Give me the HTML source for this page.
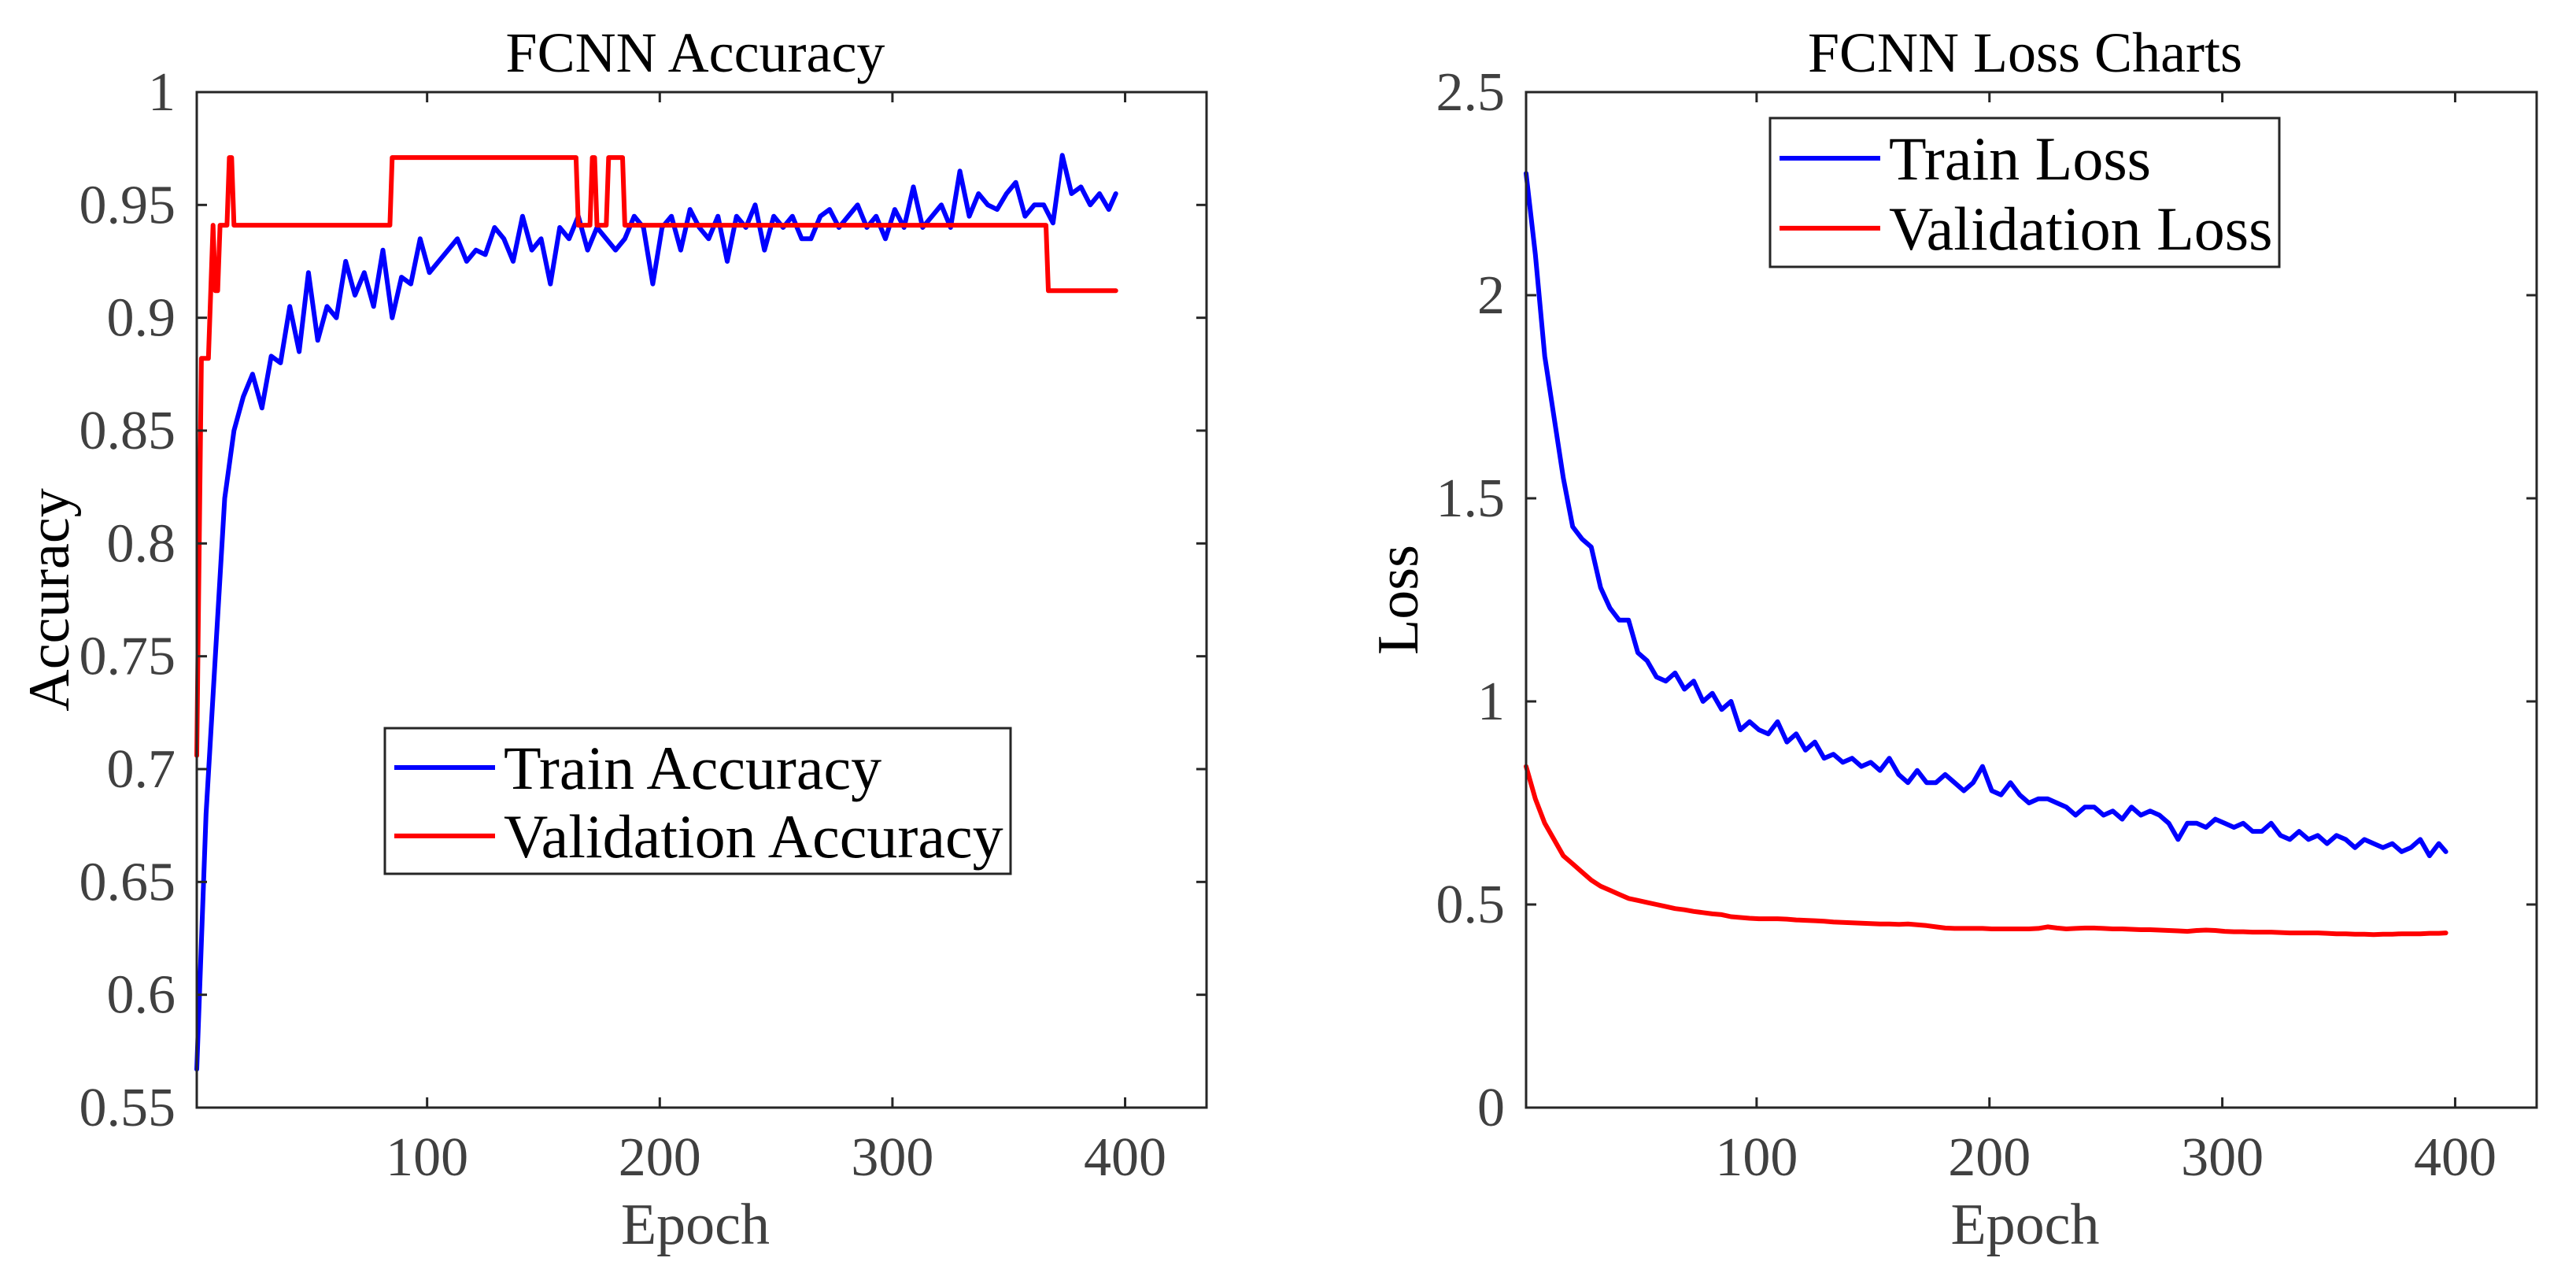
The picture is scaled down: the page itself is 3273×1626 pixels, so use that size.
<!DOCTYPE html>
<html><head><meta charset="utf-8"><style>
html,body{margin:0;padding:0;background:#fff}
svg{display:block}
text{font-family:"Liberation Serif",serif}
</style></head><body>
<svg id="fig" width="3273" height="1626" viewBox="0 0 3273 1626" xmlns="http://www.w3.org/2000/svg"></svg>
<script>
const trainAcc=[0.567,0.68,0.75,0.82,0.85,0.865,0.875,0.86,0.883,0.88,0.905,0.885,0.92,0.89,0.905,0.9,0.925,0.91,0.92,0.905,0.93,0.90,0.918,0.915,0.935,0.92,0.925,0.93,0.935,0.925,0.93,0.928,0.94,0.935,0.925,0.945,0.93,0.935,0.915,0.94,0.935,0.945,0.93,0.94,0.935,0.93,0.935,0.945,0.94,0.915,0.94,0.945,0.93,0.948,0.94,0.935,0.945,0.925,0.945,0.94,0.95,0.93,0.945,0.94,0.945,0.935,0.935,0.945,0.948,0.94,0.945,0.95,0.94,0.945,0.935,0.948,0.94,0.958,0.94,0.945,0.95,0.94,0.965,0.945,0.955,0.95,0.948,0.955,0.96,0.945,0.95,0.95,0.942,0.972,0.955,0.958,0.95,0.955,0.948,0.955];
const valAccEpochs=[1,3,6,8,9,10,11,14,15,16,17,84,85,164,165,170,171,172,173,177,178,184,185,366,367,396];
const valAcc=[0.706,0.882,0.882,0.941,0.912,0.912,0.941,0.941,0.971,0.971,0.941,0.941,0.971,0.971,0.941,0.941,0.971,0.971,0.941,0.941,0.971,0.971,0.941,0.941,0.912,0.912];
const trainLoss=[2.3,2.1,1.85,1.7,1.55,1.43,1.4,1.38,1.28,1.23,1.2,1.2,1.12,1.1,1.06,1.05,1.07,1.03,1.05,1.0,1.02,0.98,1.0,0.93,0.95,0.93,0.92,0.95,0.9,0.92,0.88,0.9,0.86,0.87,0.85,0.86,0.84,0.85,0.83,0.86,0.82,0.8,0.83,0.8,0.8,0.82,0.8,0.78,0.8,0.84,0.78,0.77,0.8,0.77,0.75,0.76,0.76,0.75,0.74,0.72,0.74,0.74,0.72,0.73,0.71,0.74,0.72,0.73,0.72,0.7,0.66,0.7,0.7,0.69,0.71,0.7,0.69,0.7,0.68,0.68,0.7,0.67,0.66,0.68,0.66,0.67,0.65,0.67,0.66,0.64,0.66,0.65,0.64,0.65,0.63,0.64,0.66,0.62,0.65,0.63];
const valLoss=[0.84,0.76,0.7,0.66,0.62,0.6,0.58,0.56,0.545,0.535,0.525,0.515,0.51,0.505,0.5,0.495,0.49,0.487,0.483,0.48,0.477,0.475,0.47,0.468,0.466,0.465,0.465,0.465,0.464,0.462,0.461,0.46,0.459,0.457,0.456,0.455,0.454,0.453,0.452,0.452,0.451,0.452,0.45,0.448,0.445,0.442,0.441,0.441,0.441,0.441,0.44,0.44,0.44,0.44,0.44,0.441,0.445,0.442,0.44,0.441,0.442,0.442,0.441,0.44,0.44,0.439,0.438,0.438,0.437,0.436,0.435,0.434,0.436,0.437,0.436,0.434,0.433,0.433,0.432,0.432,0.432,0.431,0.43,0.43,0.43,0.43,0.429,0.428,0.428,0.427,0.427,0.426,0.427,0.427,0.428,0.428,0.428,0.429,0.429,0.43];
const xTicks=[100,200,300,400];
const accTicks=["0.55","0.6","0.65","0.7","0.75","0.8","0.85","0.9","0.95","1"];
const lossTicks=["0","0.5","1","1.5","2","2.5"];
const sampleEpochs=trainAcc.map((_,i)=>Math.min(1+4*i,396));

const NS="http://www.w3.org/2000/svg";
const svg=document.getElementById('fig');
function mk(tag,attrs,parent){const e=document.createElementNS(NS,tag);for(const k in attrs)e.setAttribute(k,attrs[k]);(parent||svg).appendChild(e);return e;}

function panel(opt){
  const g=mk('g',{});
  
  
  const L=opt.left,R=opt.right,T=117,B=1407;
  const xs=v=>L+(v-1)/(435-1)*(R-L);
  const ys=v=>B-(v-opt.ymin)/(opt.ymax-opt.ymin)*(B-T);
  opt.series.forEach(s=>{
    const pts=s.x.map((x,i)=>xs(x).toFixed(1)+','+ys(s.y[i]).toFixed(1)).join(' ');
    const p=mk('polyline',{points:pts,fill:'none',stroke:s.color,'stroke-width':6,'stroke-linejoin':'round','stroke-linecap':'round'},g);
    
    
  });
  const box=mk('rect',{x:L,y:T,width:R-L,height:B-T,fill:'none',stroke:'#262626','stroke-width':3},g);
  
  
  xTicks.forEach(t=>{
    const x=xs(t);
    mk('line',{x1:x,y1:B,x2:x,y2:B-13,stroke:'#262626','stroke-width':3},g);
    mk('line',{x1:x,y1:T,x2:x,y2:T+13,stroke:'#262626','stroke-width':3},g);
    const tx=mk('text',{x:x,y:1493,'font-size':70,fill:'#404040','text-anchor':'middle'},g);
    tx.textContent=t;
    
    
  });
  opt.ticks.forEach(t=>{
    const y=ys(parseFloat(t));
    mk('line',{x1:L,y1:y,x2:L+13,y2:y,stroke:'#262626','stroke-width':3},g);
    mk('line',{x1:R,y1:y,x2:R-13,y2:y,stroke:'#262626','stroke-width':3},g);
    const tx=mk('text',{x:L-27,y:y+23,'font-size':70,fill:'#404040','text-anchor':'end'},g);
    tx.textContent=t;
    
    
  });
  const ti=mk('text',{x:(L+R)/2-8,y:91,'font-size':72,fill:'#000','text-anchor':'middle'},g);
  ti.textContent=opt.title;
  
  
  const xl=mk('text',{x:(L+R)/2-8,y:1580,'font-size':74,fill:'#404040','text-anchor':'middle'},g);
  xl.textContent='Epoch';
  
  
  const yl=mk('text',{x:0,y:0,'font-size':74,fill:'#000','text-anchor':'middle',transform:`translate(${opt.ylx},${opt.yly}) rotate(-90)`},g);
  yl.textContent=opt.ylabel;
  
  
  const lg=mk('g',{},g);
  
  
  const lb=opt.legend;
  mk('rect',{x:lb.x,y:lb.y,width:lb.w,height:lb.h,fill:'#fff',stroke:'#262626','stroke-width':3},lg);
  opt.series.forEach((s,i)=>{
    const cy=lb.y+lb.h*(0.27+0.47*i);
    mk('line',{x1:lb.x+12,y1:cy,x2:lb.x+140,y2:cy,stroke:s.color,'stroke-width':6},lg);
    const t=mk('text',{x:lb.x+151,y:cy+27,'font-size':78,fill:'#000'},lg);
    t.textContent=s.label;
    
    
  });
}

panel({name:'accuracy-chart',left:250,right:1533,ymin:0.55,ymax:1,ticks:accTicks,title:'FCNN Accuracy',ylabel:'Accuracy',ylx:87,yly:762,
  legend:{x:489,y:925,w:795,h:185},
  series:[{name:'train-accuracy-line',label:'Train Accuracy',color:'#0000ff',x:sampleEpochs,y:trainAcc},
          {name:'validation-accuracy-line',label:'Validation Accuracy',color:'#ff0000',x:valAccEpochs,y:valAcc}]});
panel({name:'loss-chart',left:1939,right:3223,ymin:0,ymax:2.5,ticks:lossTicks,title:'FCNN Loss Charts',ylabel:'Loss',ylx:1801,yly:762,
  legend:{x:2249,y:150,w:647,h:189},
  series:[{name:'train-loss-line',label:'Train Loss',color:'#0000ff',x:sampleEpochs,y:trainLoss},
          {name:'validation-loss-line',label:'Validation Loss',color:'#ff0000',x:sampleEpochs,y:valLoss}]});
</script>
</body></html>
